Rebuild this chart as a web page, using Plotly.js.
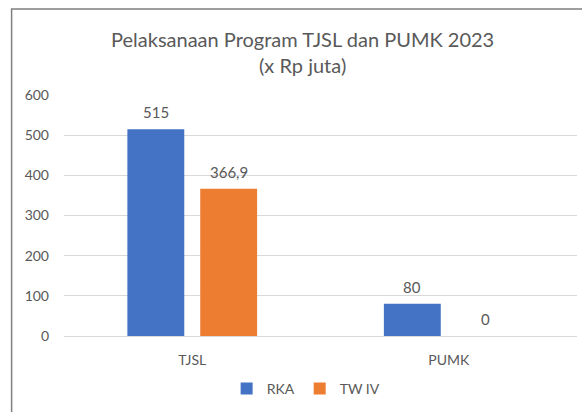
<!DOCTYPE html>
<html><head><meta charset="utf-8">
<script src="https://cdn.plot.ly/plotly-3.0.1.min.js"></script>
<style>html,body{margin:0;padding:0;background:#fff;}#chart{width:582px;height:412px;}</style>
</head><body><div id="chart"></div>
<script>
const categories = ['TJSL', 'PUMK'];
const seriesNames = ['RKA', 'TW IV'];
const rkaValues = [515, 80];
const twivValues = [366.9, 0];
const yTicks = [0, 100, 200, 300, 400, 500, 600];

const fmt = v => String(v).replace('.', ',');
const FONT = 'Lato, "Open Sans", sans-serif';
const GREY = '#595959';
const SLOT = 73; // px per bar slot

const traces = [
  {type:'bar', name:seriesNames[0], x:categories, y:rkaValues, marker:{color:'#4472C4'}, hoverinfo:'none'},
  {type:'bar', name:seriesNames[1], x:categories, y:twivValues, marker:{color:'#ED7D31'}, hoverinfo:'none'}
];

const annotations = [];
[rkaValues, twivValues].forEach((vals, si) => {
  vals.forEach((v, ci) => {
    annotations.push({x:categories[ci], y:v, xref:'x', yref:'y', text:fmt(v), showarrow:false,
      xanchor:'center', yanchor:'bottom', xshift:(si === 0 ? -1 : 1) * SLOT / 2, yshift:6,
      font:{family:FONT, size:15, color:GREY}});
  });
});

const layout = {
  width:582, height:412,
  margin:{l:63.5, r:4.5, t:95, b:76},
  paper_bgcolor:'#fff', plot_bgcolor:'#fff',
  font:{family:FONT, color:GREY, size:14},
  separators:',.',
  title:{text:'Pelaksanaan Program TJSL dan PUMK 2023<br>(x Rp juta)', x:0.52, xanchor:'center',
         y:1-47/412, yanchor:'top', yref:'container', font:{family:FONT, size:20, color:GREY}},
  barmode:'group', bargap:0.432, bargroupgap:0.219,
  xaxis:{showgrid:false, showline:false, zeroline:false, ticks:'', ticklabelstandoff:14,
         tickfont:{family:FONT, size:14, color:GREY}},
  yaxis:{range:[0,600], tickvals:yTicks, showgrid:true, gridcolor:'#D9D9D9', gridwidth:1,
         zeroline:true, zerolinecolor:'#D9D9D9', zerolinewidth:1, showline:false, ticks:'',
         ticklabelstandoff:14, tickfont:{family:FONT, size:14, color:GREY}},
  showlegend:true,
  legend:{orientation:'h', x:0.472, xanchor:'center', y:-0.22, yanchor:'middle',
          font:{family:FONT, size:14, color:GREY}, itemwidth:30, traceorder:'normal'},
  annotations:annotations,
  shapes:[{type:'rect', xref:'paper', yref:'paper', x0:(11-63.5)/514, x1:1.5, y0:-1, y1:(336-9)/241,
           line:{color:'#7F7F7F', width:1.5}, fillcolor:'rgba(0,0,0,0)', layer:'below'}]
};

Plotly.newPlot('chart', traces, layout, {staticPlot:true, displayModeBar:false});
</script></body></html>
